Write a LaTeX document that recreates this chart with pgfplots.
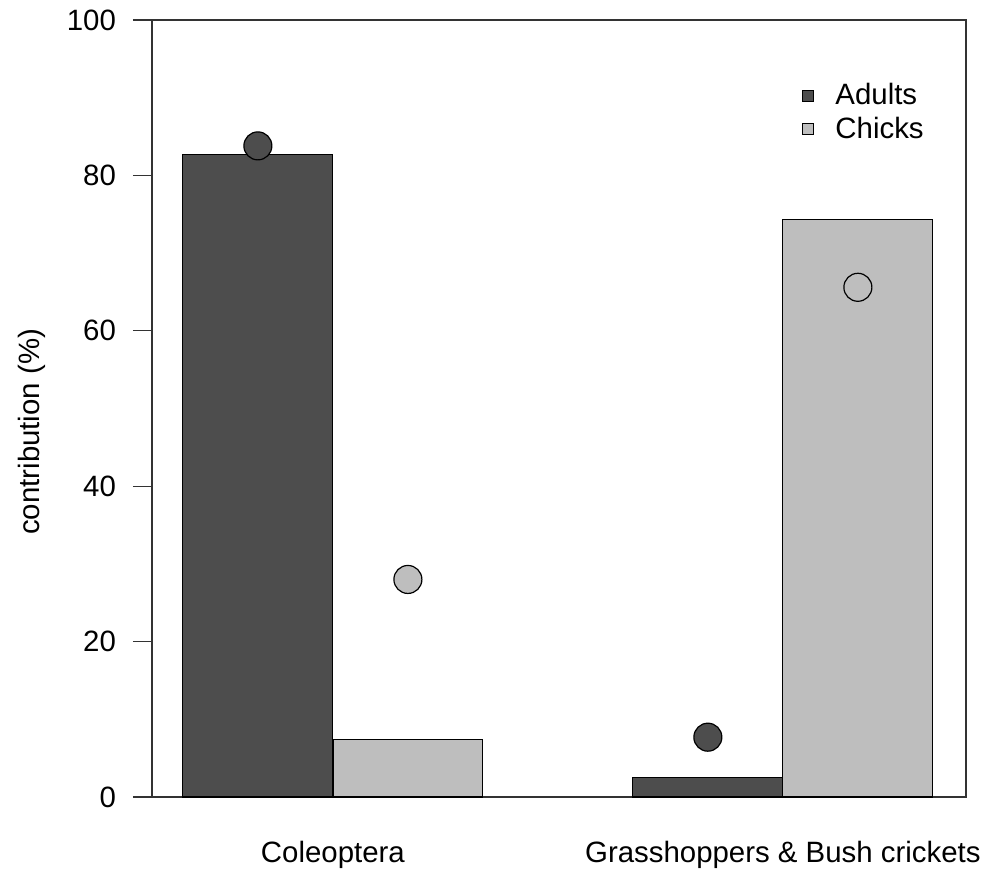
\documentclass[border=0pt]{standalone}
\usepackage{pgfplots}
\pgfplotsset{compat=1.18}
\usepackage{fontspec}
\setmainfont{Liberation Sans}
\definecolor{adultc}{HTML}{4D4D4D}
\definecolor{chickc}{HTML}{BEBEBE}
\definecolor{linec}{HTML}{333333}
\begin{document}
\begin{tikzpicture}
\begin{axis}[
  name=main,
  scale only axis,
  width=407pt, height=388.5pt,
  xmin=0.598, xmax=2.407,
  ymin=0, ymax=100,
  xtick={1,2},
  xticklabels={Coleoptera, Grasshoppers \& Bush crickets},
  ytick={0,20,40,60,80,100},
  ytick pos=left,
  tick align=outside,
  major tick length=9.5pt,
  x tick style={draw=none},
  y tick style={linec, line width=0.6pt},
  axis line style={linec, line width=0.6pt},
  font=\fontsize{14.7}{17.5}\selectfont,
  /pgf/number format/assume math mode=true,
  yticklabel style={xshift=-5pt},
  xticklabel style={yshift=-9pt},
  every axis y label/.style={at={(axis description cs:-0.147,0.47)}, rotate=90, anchor=center},
  ylabel={contribution (\%)},
  legend style={at={(axis description cs:0.791,0.929)}, anchor=north west,
    draw=none, fill=none, row sep=0.5pt,
    nodes={inner sep=2pt}},
  legend cell align=left,
]
\addplot[ybar, bar width=0.3333, bar shift=0, fill=adultc, draw=black, line width=0.6pt,
  legend image code/.code={\draw[fill=adultc, draw=black, line width=0.6pt] (0pt,-2.75pt) rectangle (5.5pt,2.75pt);}]
  coordinates {(0.8333,82.7) (1.8333,2.5)};
\addlegendentry{\hspace{8.5pt}Adults}
\addplot[ybar, bar width=0.3333, bar shift=0, fill=chickc, draw=black, line width=0.6pt,
  legend image code/.code={\draw[fill=chickc, draw=black, line width=0.6pt] (0pt,-2.75pt) rectangle (5.5pt,2.75pt);}]
  coordinates {(1.1667,7.4) (2.1667,74.3)};
\addlegendentry{\hspace{8.5pt}Chicks}
\addplot[only marks, mark=*, mark size=7pt, forget plot,
  mark options={fill=adultc, draw=black, line width=0.6pt}]
  coordinates {(0.8333,83.8) (1.8333,7.7)};
\addplot[only marks, mark=*, mark size=7pt, forget plot,
  mark options={fill=chickc, draw=black, line width=0.6pt}]
  coordinates {(1.1667,28.0) (2.1667,65.6)};
\end{axis}
\pgfresetboundingbox
\path[use as bounding box] ([xshift=-76pt,yshift=-38.5pt]main.south west) rectangle ([xshift=10.5pt,yshift=10pt]main.north east);
\end{tikzpicture}
\end{document}
